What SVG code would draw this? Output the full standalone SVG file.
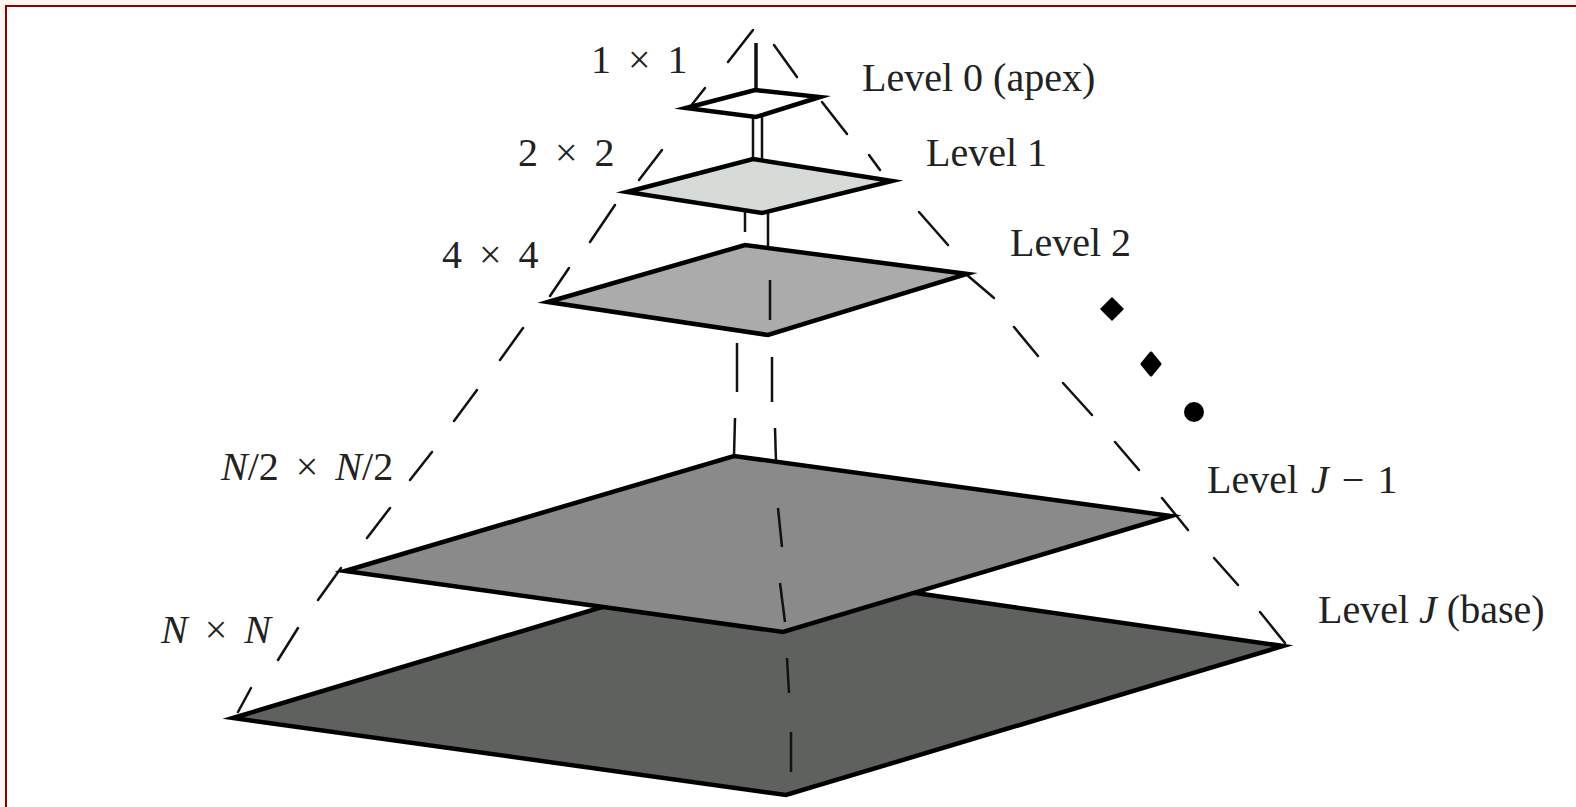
<svg xmlns="http://www.w3.org/2000/svg" width="1576" height="807" viewBox="0 0 1576 807">
<style>
.plane{stroke:#000;stroke-width:4.5;stroke-linejoin:miter;stroke-miterlimit:20}
.side{stroke:#111;stroke-width:2.5;fill:none;stroke-linecap:round}
.axis{stroke:#111;stroke-width:2.5;fill:none}
.lbl{font-family:"Liberation Serif","Times New Roman",serif;font-size:40px;fill:#222}
.sz{word-spacing:7px}
.it{font-style:italic}
.dot{fill:#000}
</style>
<rect x="0" y="0" width="1576" height="807" fill="#fff5ee"/>
<rect x="5" y="5" width="1571" height="802" fill="#8b0000"/>
<rect x="7" y="7" width="1569" height="800" fill="#fff"/>

<g id="connectors">
  <g id="left-edge">
    <line class="side" x1="753" y1="30" x2="728" y2="62"/>
    <line class="side" x1="705" y1="88" x2="690" y2="107"/>
    <line class="side" x1="662" y1="150" x2="639" y2="180"/>
    <line class="side" x1="615" y1="205" x2="590" y2="242"/>
    <line class="side" x1="569" y1="268" x2="550" y2="296"/>
    <line class="side" x1="523" y1="328" x2="500" y2="360"/>
    <line class="side" x1="477" y1="390" x2="454" y2="421"/>
    <line class="side" x1="432" y1="452" x2="410" y2="480"/>
    <line class="side" x1="390" y1="508" x2="367" y2="538"/>
    <line class="side" x1="341" y1="568" x2="318" y2="600"/>
    <line class="side" x1="298" y1="628" x2="278" y2="660"/>
    <line class="side" x1="251" y1="688" x2="238" y2="712"/>
  </g>
  <g id="right-edge">
    <line class="side" x1="774" y1="45" x2="797" y2="77"/>
    <line class="side" x1="822" y1="102" x2="847" y2="134"/>
    <line class="side" x1="869" y1="155" x2="880" y2="170"/>
    <line class="side" x1="919" y1="212" x2="948" y2="245"/>
    <line class="side" x1="967" y1="275" x2="994" y2="298"/>
    <line class="side" x1="1014" y1="327" x2="1038" y2="356"/>
    <line class="side" x1="1063" y1="383" x2="1092" y2="415"/>
    <line class="side" x1="1115" y1="442" x2="1139" y2="470"/>
    <line class="side" x1="1162" y1="498" x2="1188" y2="530"/>
    <line class="side" x1="1214" y1="558" x2="1238" y2="585"/>
    <line class="side" x1="1260" y1="612" x2="1285" y2="643"/>
  </g>
  <g id="axis">
    <line class="axis" x1="756" y1="43" x2="756" y2="91" style="stroke-width:3.5"/>
    <line class="axis" x1="753" y1="116" x2="753" y2="160"/>
    <line class="axis" x1="762" y1="115" x2="762" y2="161"/>
    <line class="axis" x1="745" y1="210" x2="745" y2="232"/>
    <line class="axis" x1="768" y1="211" x2="768" y2="248"/>
    <line class="axis" x1="737" y1="343" x2="737" y2="392"/>
    <line class="axis" x1="735" y1="418" x2="734" y2="456"/>
    <line class="axis" x1="772" y1="357" x2="772" y2="402"/>
    <line class="axis" x1="775" y1="428" x2="776" y2="462"/>
  </g>
</g>

<g id="level-J">
  <polygon class="plane" points="233,718 735,567 1283,646 786,795" fill="#5e615e"/>
  <line class="axis" x1="787" y1="658" x2="789" y2="693"/>
  <line class="axis" x1="791" y1="732" x2="791" y2="772"/>
  <text class="lbl sz" x="161" y="643"><tspan class="it">N</tspan> × <tspan class="it">N</tspan></text>
  <text class="lbl" x="1318" y="623">Level <tspan class="it">J</tspan> (base)</text>
</g>

<g id="level-J-1">
  <polygon class="plane" points="345,571 734,456 1171,516 783,632" fill="#8a8a8a"/>
  <line class="axis" x1="778" y1="508" x2="782" y2="547"/>
  <line class="axis" x1="780" y1="583" x2="785" y2="622"/>
  <text class="lbl sz" x="221" y="480"><tspan class="it">N</tspan>/2 × <tspan class="it">N</tspan>/2</text>
  <text class="lbl" x="1207" y="493" style="word-spacing:3px">Level <tspan class="it">J</tspan> − 1</text>
</g>

<g id="level-2">
  <polygon class="plane" points="548,302 745,245 967,274 768,335" fill="#ababab"/>
  <line class="axis" x1="770" y1="280" x2="770" y2="320"/>
  <text class="lbl sz" x="442" y="268">4 × 4</text>
  <text class="lbl" x="1010" y="256">Level 2</text>
</g>

<g id="level-1">
  <polygon class="plane" points="627,192 753,159 892,181 762,213" fill="#d7dbd7"/>
  <text class="lbl sz" x="518" y="166">2 × 2</text>
  <text class="lbl" x="926" y="166">Level 1</text>
</g>

<g id="level-0">
  <polygon class="plane" points="686,108 755,90 820,97 756,117" fill="#fff"/>
  <text class="lbl sz" x="591" y="73">1 × 1</text>
  <text class="lbl" x="862" y="91">Level 0 (apex)</text>
</g>

<g id="ellipsis">
  <polygon class="dot" points="1112,298 1123,309 1112,320 1101,309" stroke="#000" stroke-width="1.5" stroke-linejoin="round"/>
  <polygon class="dot" points="1151,353 1160,364 1151,375 1142,364" stroke="#000" stroke-width="3" stroke-linejoin="round"/>
  <circle class="dot" cx="1194" cy="412" r="10"/>
</g>
</svg>
